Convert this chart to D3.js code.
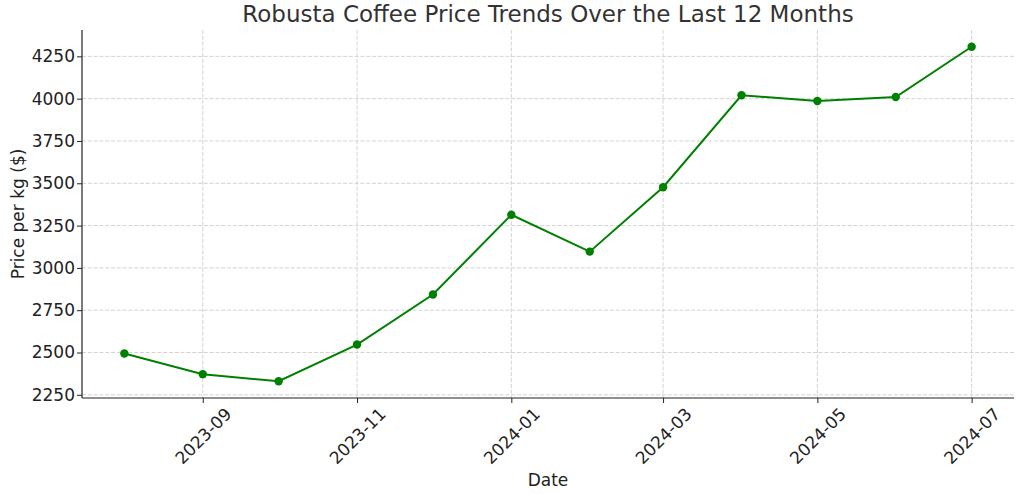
<!DOCTYPE html>
<html><head><meta charset="utf-8">
<script src="https://cdn.jsdelivr.net/npm/d3@7"></script>
<style>body{margin:0;background:#fff;}svg{display:block;font-family:"DejaVu Sans",sans-serif;}</style>
</head><body><svg id="c" width="1024" height="494"></svg>
<script>
const dates = ["2023-08-01","2023-09-01","2023-10-01","2023-11-01","2023-12-01","2024-01-01","2024-02-01","2024-03-01","2024-04-01","2024-05-01","2024-06-01","2024-07-01"];
const prices = [2494,2372,2330,2547,2843,3314,3096,3477,4020,3986,4010,4307];
const yTicks = [2250,2500,2750,3000,3250,3500,3750,4000,4250];
const xTickLabels = ["2023-09","2023-11","2024-01","2024-03","2024-05","2024-07"];

const parse = d3.utcParse("%Y-%m-%d");
const parseM = d3.utcParse("%Y-%m");
const data = dates.map((d,i)=>({date:parse(d), value:prices[i]}));
const svg = d3.select("#c");
const L=82, R=1014, T=30, B=398;
const x0 = data[0].date, x1 = data[data.length-1].date;
const span = x1 - x0;
const x = d3.scaleUtc().domain([new Date(+x0 - span*0.05), new Date(+x1 + span*0.05)]).range([L,R]);
const vmin = d3.min(prices), vmax = d3.max(prices), vs = vmax-vmin;
const y = d3.scaleLinear().domain([vmin - vs*0.05, vmax + vs*0.05]).range([B,T]);

// grid
const g = svg.append("g");
g.selectAll(".gy").data(yTicks).join("line")
 .attr("x1",L).attr("x2",R).attr("y1",d=>y(d)).attr("y2",d=>y(d))
 .attr("stroke","#c8c8c8").attr("stroke-width",0.8).attr("stroke-dasharray","4,1.8");
const xt = xTickLabels.map(parseM);
g.selectAll(".gx").data(xt).join("line")
 .attr("x1",d=>x(d)).attr("x2",d=>x(d)).attr("y1",T).attr("y2",B)
 .attr("stroke","#c8c8c8").attr("stroke-width",0.8).attr("stroke-dasharray","4,1.8");

// axes
const yAxis = d3.axisLeft(y).tickValues(yTicks).tickFormat(d3.format("d")).tickSize(5).tickPadding(2);
const ya = svg.append("g").attr("transform",`translate(${L},0)`).call(yAxis);
ya.select(".domain").attr("stroke","#222").attr("stroke-width",1.2).attr("d",`M0,${B}V${T}`);
ya.selectAll(".tick line").attr("stroke","#222");
ya.selectAll("text").attr("font-size",17).attr("fill","#222").attr("font-family","DejaVu Sans");

const xAxis = d3.axisBottom(x).tickValues(xt).tickFormat(d3.utcFormat("%Y-%m")).tickSize(5);
const xa = svg.append("g").attr("transform",`translate(0,${B})`).call(xAxis);
xa.select(".domain").attr("stroke","#222").attr("stroke-width",1.2).attr("d",`M${L},0H${R}`);
xa.selectAll(".tick line").attr("stroke","#222");
xa.selectAll("text").attr("font-size",17).attr("fill","#222").attr("font-family","DejaVu Sans")
 .attr("text-anchor","middle").attr("dominant-baseline","central").attr("dy",null).attr("y",null)
 .attr("transform","translate(0,38) rotate(-45)");

// line
svg.append("path").datum(data)
 .attr("fill","none").attr("stroke","#008000").attr("stroke-width",2)
 .attr("d", d3.line().x(d=>x(d.date)).y(d=>y(d.value)));
svg.selectAll(".pt").data(data).join("circle")
 .attr("cx",d=>x(d.date)).attr("cy",d=>y(d.value)).attr("r",4.2).attr("fill","#008000");

// labels
svg.append("text").attr("x",(L+R)/2).attr("y",22).attr("text-anchor","middle")
 .attr("font-size",23).attr("fill","#333").text("Robusta Coffee Price Trends Over the Last 12 Months");
svg.append("text").attr("x",(L+R)/2).attr("y",486).attr("text-anchor","middle")
 .attr("font-size",17).attr("fill","#222").text("Date");
svg.append("text").attr("transform",`translate(24,${(T+B)/2}) rotate(-90)`).attr("text-anchor","middle")
 .attr("font-size",17).attr("fill","#222").text("Price per kg ($)");
</script></body></html>
